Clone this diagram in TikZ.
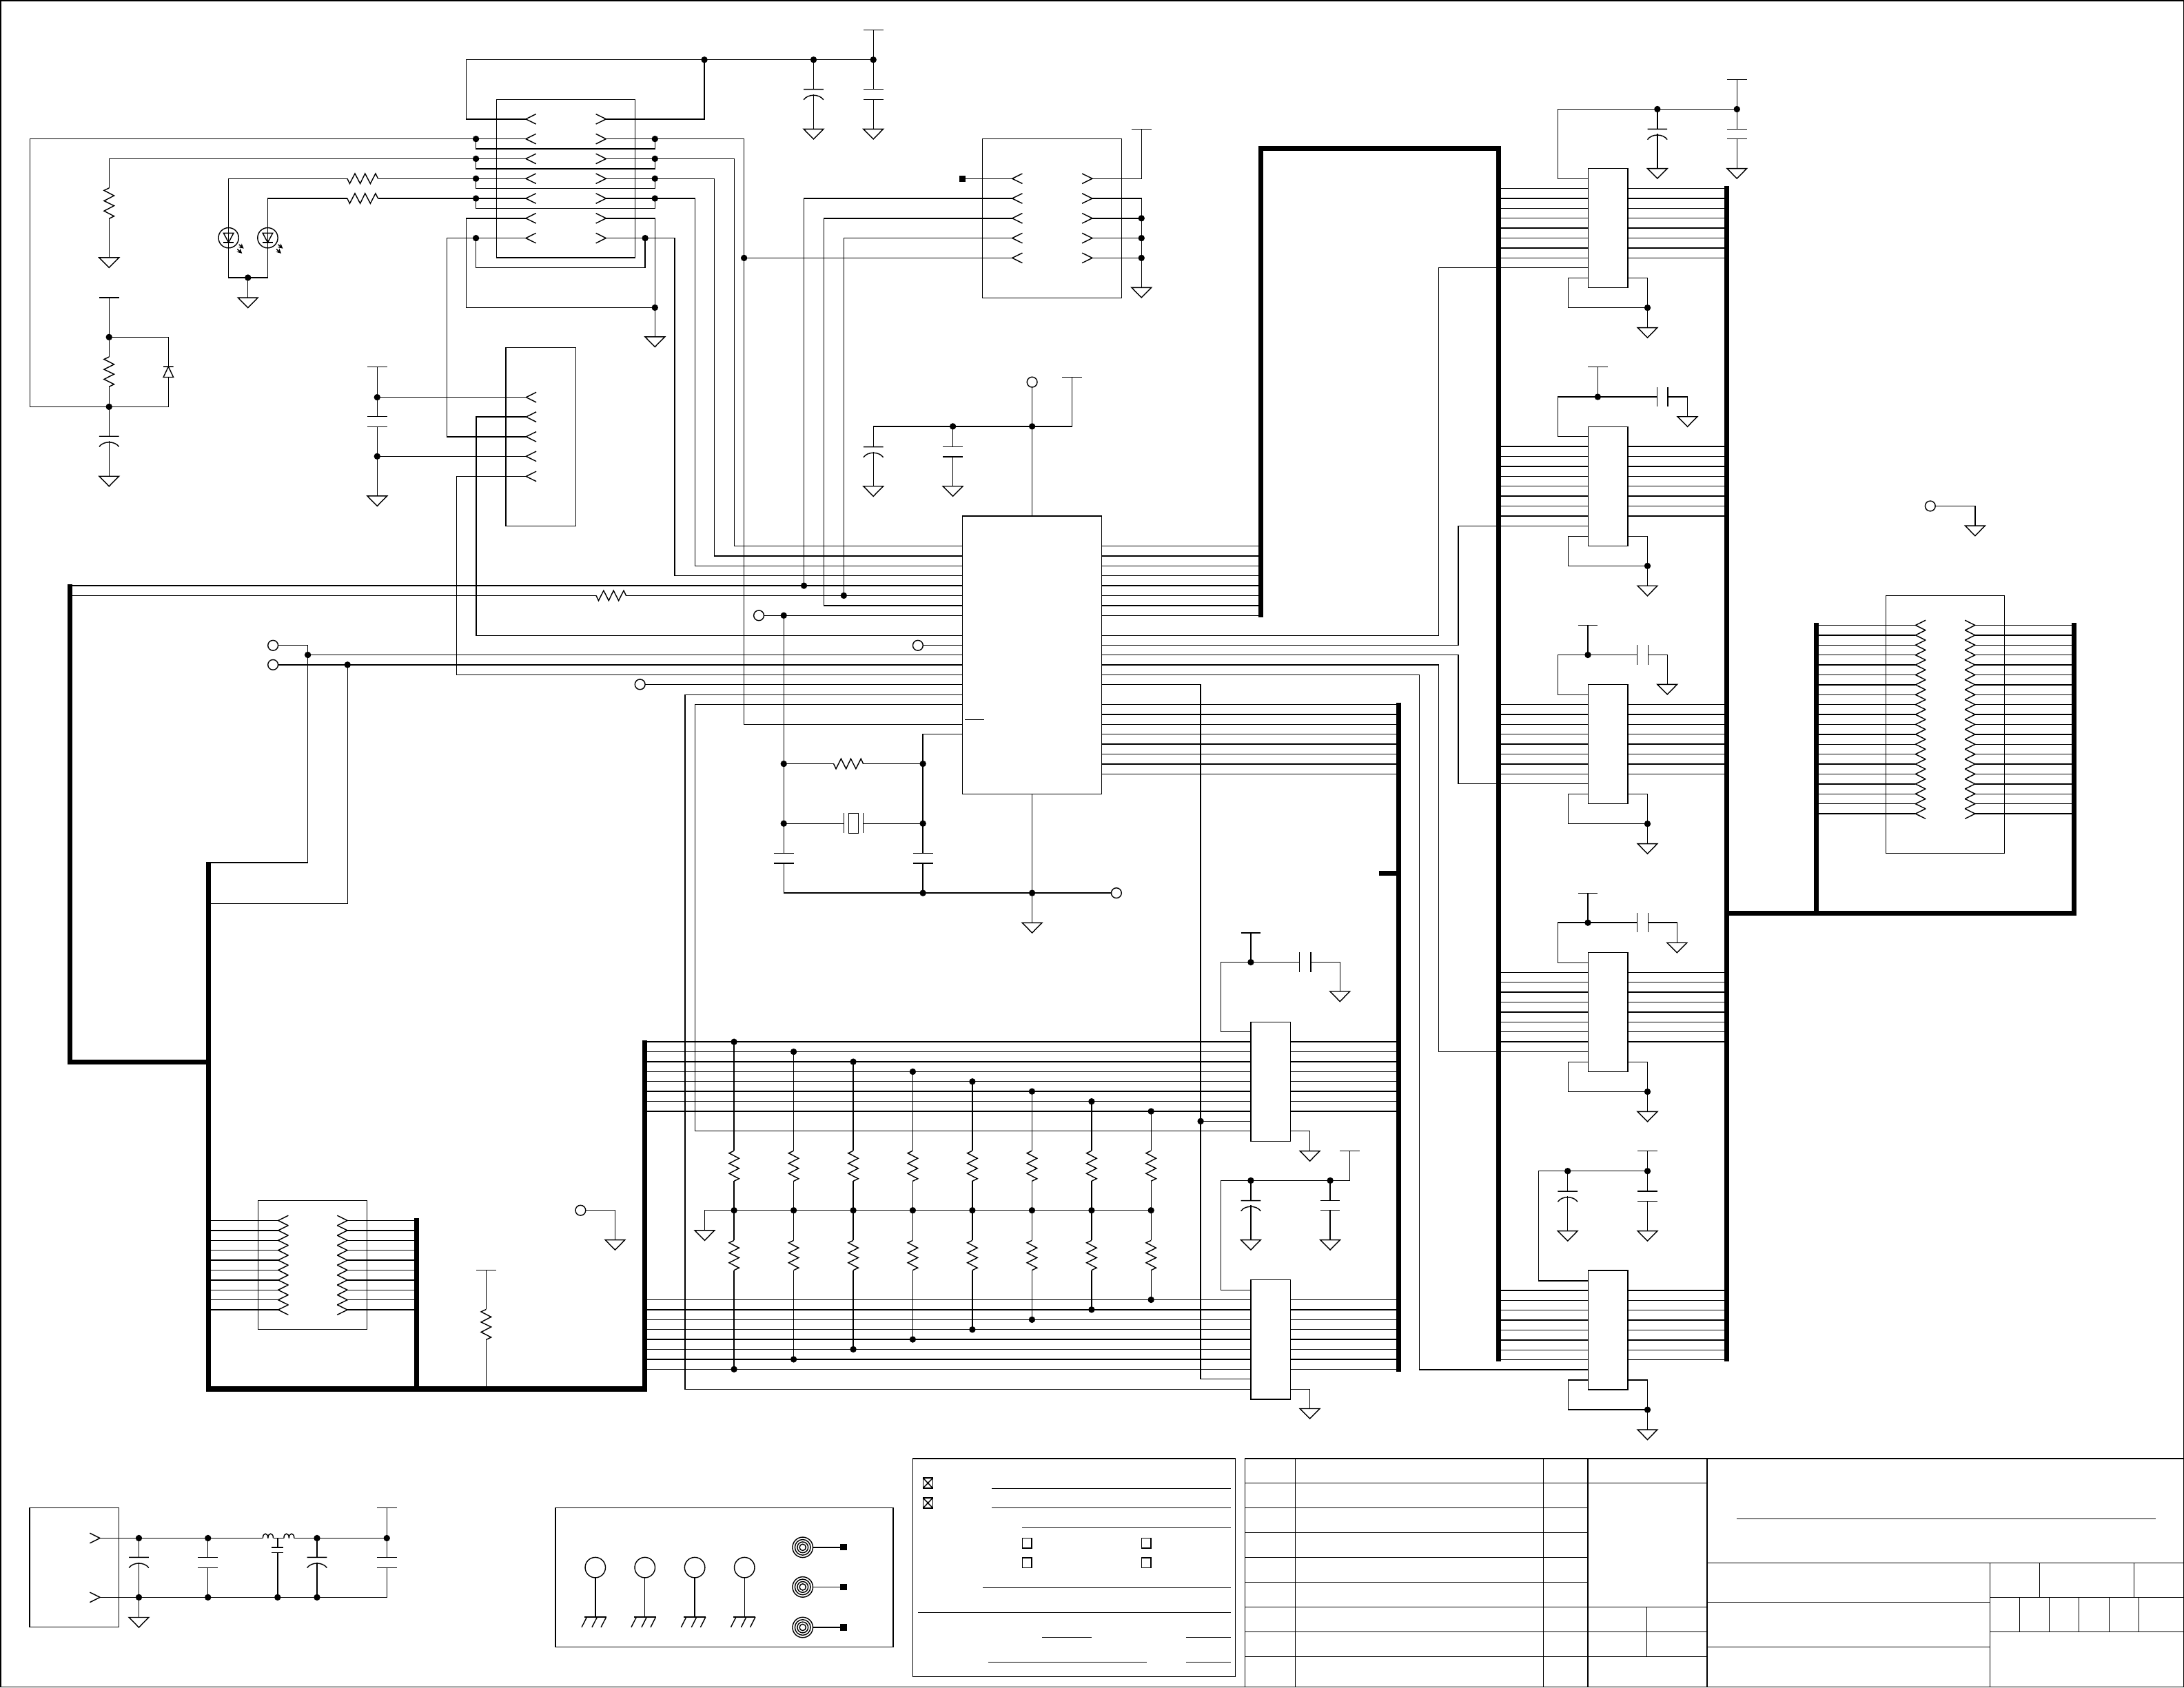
\documentclass[tikz,border=0pt]{standalone}
\usetikzlibrary{arrows.meta}
\newcounter{jn}
\newcounter{bn}
\tikzset{
  wire/.style={line width=0.3pt,line cap=butt,line join=miter},
  bus/.style={line width=1.5pt,line join=miter,line cap=butt},
  jdot/.style={circle,fill=black,draw=none,inner sep=0pt,minimum size=0.07cm},
  opin/.style={circle,draw=black,fill=white,line width=0.3pt,inner sep=0pt,minimum size=0.11cm},
  icbox/.style={rectangle,draw=black,line width=0.3pt,inner sep=0pt,outer sep=0pt},
  pad/.style={rectangle,fill=black,inner sep=0pt,minimum width=0.071cm,minimum height=0.069cm}
}
\newcommand{\xDot}[2]{\stepcounter{jn}\node[jdot] (j\thejn) at (#1,#2) {};}
\newcommand{\xOpen}[2]{\stepcounter{jn}\node[opin] (o\thejn) at (#1,#2) {};}
\newcommand{\xPad}[2]{\stepcounter{jn}\node[pad] (p\thejn) at (#1,#2) {};}
\newcommand{\xGnd}[2]{\draw[wire] (#1-7.1,#2)--(#1+7.1,#2)--(#1,#2+7.2)--cycle;}
\newcommand{\xVcc}[2]{\draw[wire] (#1-7.1,#2)--(#1+7.1,#2);}
\newcommand{\xCap}[3]{\draw[wire] (#1-7.1,#2)--(#1+7.1,#2) (#1-7.1,#3)--(#1+7.1,#3);}
\newcommand{\xPol}[2]{\draw[wire] (#1-7.1,#2)--(#1+7.1,#2) (#1-7.1,#2+7.5) .. controls (#1-4,#2+3.2) and (#1+4,#2+3.2) .. (#1+7.1,#2+7.5);}
\newcommand{\xCapH}[3]{\draw[wire] (#1,#3-7)--(#1,#3+7) (#2,#3-7)--(#2,#3+7);}
\newcommand{\xResV}[3]{\draw[wire] (#1,#2)--({#1-3.6},{#2+0.08*(#3-#2)})--({#1+3.6},{#2+0.25*(#3-#2)})--({#1-3.6},{#2+0.42*(#3-#2)})--({#1+3.6},{#2+0.58*(#3-#2)})--({#1-3.6},{#2+0.75*(#3-#2)})--({#1+3.6},{#2+0.92*(#3-#2)})--(#1,#3);}
\newcommand{\xResH}[3]{\draw[wire] (#1,#3)--({#1+0.08*(#2-#1)},{#3+3.6})--({#1+0.25*(#2-#1)},{#3-3.6})--({#1+0.42*(#2-#1)},{#3+3.6})--({#1+0.58*(#2-#1)},{#3-3.6})--({#1+0.75*(#2-#1)},{#3+3.6})--({#1+0.92*(#2-#1)},{#3-3.6})--(#2,#3);}
\newcommand{\xChL}[2]{\draw[wire] (#1+7.3,#2-3.6)--(#1,#2)--(#1+7.3,#2+3.6);}
\newcommand{\xChR}[2]{\draw[wire] (#1-7.3,#2-3.6)--(#1,#2)--(#1-7.3,#2+3.6);}
\newcommand{\xBox}[5]{\node[icbox,minimum width={(#4-#2)*0.015cm},minimum height={(#5-#3)*0.015cm}] (#1) at ({(#2+#4)/2},{(#3+#5)/2}) {};}
\newcommand{\xRows}[4]{\foreach \i in {0,...,#2}{\pgfmathsetmacro\yy{#1+7.125*\i}\draw[wire] (#3,\yy)--(#4,\yy);}}
\newcommand{\xW}[1]{\draw[wire] #1;}
% bus-to-bus buffer cell: #1 name, #2 top of box
\newcommand{\xCell}[2]{%
  \xBox{#1}{1140.2}{#2}{1168.6}{#2+85.6}
  \pgfmathsetmacro\rr{#2+14.3}
  \xRows{\rr}{7}{1075.8}{1140.2}
  \xRows{\rr}{7}{1168.6}{1239.7}
  \draw[wire] (1140.2,#2+78.7)--(1125.8,#2+78.7)--(1125.8,#2+100)--(1182.8,#2+100);
  \draw[wire] (1168.6,#2+78.7)--(1182.8,#2+78.7)--(1182.8,#2+114.3);
  \pgfmathsetmacro\gg{#2+100}\xDot{1182.8}{\gg}
  \pgfmathsetmacro\gg{#2+114.3}\xGnd{1182.8}{\gg}
}
\begin{document}
\begin{tikzpicture}[x=0.015cm,y=-0.015cm]
\useasboundingbox (0,0) rectangle (1568,1211.74);
\draw[wire] (0.4,0.4) rectangle (1567.7,1211.4);

% ---------- thick buses
\draw[bus] (50,419.5)--(50,762.5)--(149.5,762.5);
\draw[bus] (149.5,619)--(149.5,997.5)--(463,997.5)--(463,746.9);
\draw[bus] (299.3,874.8)--(299.3,997.5);
\draw[bus] (905,443.4)--(905,106.8)--(1075.8,106.8)--(1075.8,977.5);
\draw[bus] (1239.7,133.7)--(1239.7,977.5);
\draw[bus] (1004.3,504.5)--(1004.3,985);
\draw[bus] (990,627)--(1004.3,627);
\draw[bus] (1239.7,655.7)--(1489.2,655.7)--(1489.2,447.3);
\draw[bus] (1304,447.3)--(1304,655.7);

% ---------- connector J1
\xBox{jone}{356.6}{71.4}{456}{185}
\foreach \yy in {85.5,99.75,114,128.25,142.5,156.75,171}{\xChL{377.5}{\yy}\xChR{435.1}{\yy}}
\xW{(377.5,85.5)--(334.8,85.5)--(334.8,42.9)--(627,42.9)}
\xW{(435.1,85.5)--(505.7,85.5)--(505.7,42.9)}
\xDot{505.7}{42.9}\xDot{584.1}{42.9}\xDot{627}{42.9}
\xVcc{627}{21.5}\xW{(627,21.5)--(627,64.1)}\xCap{627}{64.1}{71.4}\xW{(627,71.4)--(627,92.7)}\xGnd{627}{92.7}
\xW{(584.1,42.9)--(584.1,64.1)}\xPol{584.1}{64.1}\xW{(584.1,67.8)--(584.1,92.7)}\xGnd{584.1}{92.7}
\foreach \yy in {99.75,114,128.25,142.5}{
  \xDot{341.7}{\yy}\xDot{470.2}{\yy}
  \draw[wire] (341.7,\yy)--(341.7,\yy+7.2)--(470.2,\yy+7.2)--(470.2,\yy);
}
% row 2
\xW{(377.5,99.75)--(21.5,99.75)--(21.5,292.1)--(120.9,292.1)--(120.9,270.9)}
\xW{(435.1,99.75)--(534.2,99.75)--(534.2,520.2)--(691,520.2)}
% row 3
\xW{(377.5,114)--(78.3,114)--(78.3,135)}\xResV{78.3}{135}{157}\xW{(78.3,157)--(78.3,185)}\xGnd{78.3}{185}
\xW{(435.1,114)--(527.2,114)--(527.2,392.1)--(691,392.1)}
% row 4
\xW{(377.5,128.25)--(271.4,128.25)}\xResH{249.3}{271.4}{128.25}\xW{(249.3,128.25)--(164.1,128.25)--(164.1,199.4)--(192.2,199.4)--(192.2,142.5)--(249.3,142.5)}
\xW{(435.1,128.25)--(512.9,128.25)--(512.9,399.2)--(691,399.2)}
% row 5
\xResH{249.3}{271.4}{142.5}\xW{(377.5,142.5)--(271.4,142.5)}
\xW{(435.1,142.5)--(499,142.5)--(499,406.4)--(691,406.4)}
% row 6
\xW{(377.5,156.75)--(334.8,156.75)--(334.8,220.9)--(470.2,220.9)}
\xW{(435.1,156.75)--(470.2,156.75)--(470.2,241.9)}
\xDot{470.2}{220.9}\xGnd{470.2}{241.9}
% row 7
\xW{(377.5,171)--(320.9,171)--(320.9,313.6)--(377.7,313.6)}
\xW{(435.1,171)--(484.4,171)--(484.4,413.5)--(691,413.5)}
\xDot{341.7}{171}\xDot{463.2}{171}
\xW{(341.7,171)--(341.7,192.1)--(463.2,192.1)--(463.2,171)}

% ---------- LEDs
\foreach \xx in {164.1,192.2}{
  \draw[wire] (\xx,170.8) circle (7.26*0.015cm);
  \draw[wire] (\xx-3.6,167.4)--(\xx+3.6,167.4)--(\xx,174.1)--cycle;
  \draw[wire] (\xx-3.6,174.1)--(\xx+3.6,174.1);
  \draw[wire,-{Stealth[length=1.5pt,width=1.5pt]}] (\xx+7.5,175.6)--(\xx+10.9,178.5);
  \draw[wire,-{Stealth[length=1.5pt,width=1.5pt]}] (\xx+6.3,178.9)--(\xx+9.7,182);
}
\xDot{178}{199.4}\xW{(178,199.4)--(178,213.8)}\xGnd{178}{213.8}

% ---------- left RC + diode
\xVcc{78.3}{213.8}\xW{(78.3,213.8)--(78.3,256.3)}\xDot{78.3}{242.1}
\xResV{78.3}{256.3}{277.7}\xW{(78.3,277.7)--(78.3,313.3)}\xDot{78.3}{292.1}
\xW{(78.3,242.1)--(120.9,242.1)--(120.9,263.3)}
\draw[wire] (117.3,263.3)--(124.5,263.3) (120.9,263.3)--(117.3,270.9)--(124.5,270.9)--cycle;
\xPol{78.3}{313.3}\xW{(78.3,316.8)--(78.3,342)}\xGnd{78.3}{342}

% ---------- connector J2
\xBox{jtwo}{363.2}{249.7}{413.4}{377.7}
\foreach \yy in {285.3,299.4,313.6,327.7,342.1}{\xChL{377.7}{\yy}}
\xVcc{270.8}{263.6}\xW{(270.8,263.6)--(270.8,299.2)}\xCap{270.8}{299.2}{306.5}\xW{(270.8,306.5)--(270.8,356.2)}\xGnd{270.8}{356.2}
\xDot{270.8}{285.3}\xDot{270.8}{327.7}
\xW{(270.8,285.3)--(377.7,285.3)}\xW{(270.8,327.7)--(377.7,327.7)}
\xW{(377.7,299.4)--(342,299.4)--(342,456.3)--(691,456.3)}
\xW{(377.7,342.1)--(327.9,342.1)--(327.9,484.7)--(691,484.7)}

% ---------- connector J3
\xBox{jthree}{705.3}{99.7}{805.3}{214.1}
\foreach \yy in {128.25,142.5,156.75,171,185.25}{\xChL{726.7}{\yy}\xChR{784.2}{\yy}}
\xPad{691}{128.25}\xW{(691,128.25)--(726.7,128.25)}
\xW{(726.7,142.5)--(577.2,142.5)--(577.2,420.6)}\xDot{577.2}{420.6}
\xW{(726.7,156.75)--(591.4,156.75)--(591.4,434.9)}
\xW{(726.7,171)--(605.8,171)--(605.8,427.7)}\xDot{605.8}{427.7}
\xW{(726.7,185.25)--(534.2,185.25)}\xDot{534.2}{185.25}
\xW{(784.2,128.25)--(819.5,128.25)--(819.5,92.7)}\xVcc{819.5}{92.7}
\xW{(784.2,142.5)--(819.5,142.5)--(819.5,206.5)}
\foreach \yy in {156.75,171,185.25}{\xW{(784.2,\yy)--(819.5,\yy)}\xDot{819.5}{\yy}}
\xGnd{819.5}{206.5}

% ---------- main IC
\xBox{mcu}{691}{370.5}{791}{570.2}
\xW{(692.8,516.9)--(706.7,516.9)}
\xW{(mcu.north)--(741,278.1)}\xOpen{741}{274.4}
\xDot{741}{306.2}\xDot{684.1}{306.2}
\xW{(769.6,270.9)--(769.6,306.2)--(627,306.2)--(627,320.9)}\xVcc{769.6}{270.9}
\xPol{627}{320.9}\xW{(627,324.4)--(627,349.2)}\xGnd{627}{349.2}
\xW{(684.1,306.2)--(684.1,320.9)}\xCap{684.1}{320.9}{328}\xW{(684.1,328)--(684.1,349.2)}\xGnd{684.1}{349.2}
\xRows{392.1}{7}{791}{905}
\xRows{505.9}{7}{791}{1004.3}
% left side
\xW{(50,420.6)--(691,420.6)}
\xW{(50,427.7)--(428,427.7)}\xResH{428}{449.5}{427.7}\xW{(449.5,427.7)--(691,427.7)}
\xW{(591.4,434.9)--(691,434.9)}
\xOpen{544.8}{442}\xW{(548.5,442)--(691,442)}\xDot{562.7}{442}
\xOpen{659}{463.5}\xW{(662.7,463.5)--(691,463.5)}
\xOpen{196}{463.5}\xW{(199.7,463.5)--(221,463.5)--(221,619.5)--(149.5,619.5)}
\xDot{221}{470.3}\xW{(221,470.3)--(691,470.3)}
\xOpen{196}{477.4}\xW{(199.7,477.4)--(691,477.4)}
\xDot{249.5}{477.4}\xW{(249.5,477.4)--(249.5,649)--(149.5,649)}
\xOpen{459.5}{491.5}\xW{(463.2,491.5)--(691,491.5)}
\xW{(691,499)--(491.8,499)--(491.8,997.8)--(898,997.8)}
\xW{(691,505.9)--(499,505.9)--(499,812.2)--(898,812.2)}
% crystal
\xW{(691,527.3)--(662.6,527.3)--(662.6,612.8)}
\xW{(562.7,442)--(562.7,612.8)}
\xDot{562.7}{548.5}\xDot{662.6}{548.5}\xDot{562.7}{591.4}\xDot{662.6}{591.4}
\xW{(562.7,548.5)--(598.5,548.5)}\xResH{598.5}{619.8}{548.5}\xW{(619.8,548.5)--(662.6,548.5)}
\xW{(562.7,591.4)--(605.8,591.4)}\xW{(619.8,591.4)--(662.6,591.4)}
\draw[wire] (605.8,584)--(605.8,598.4) (619.8,584)--(619.8,598.4) (609.3,584) rectangle (616.4,598.4);
\xCap{562.7}{612.8}{619.9}\xCap{662.6}{612.8}{619.9}
\xW{(562.7,619.9)--(562.7,641.3)--(797.9,641.3)}
\xW{(662.6,619.9)--(662.6,641.3)}
\xDot{662.6}{641.3}\xDot{741}{641.3}\xOpen{801.5}{641.3}
\xW{(mcu.south)--(741,662.7)}\xGnd{741}{662.7}
% right side routing
\xW{(791,456.3)--(1033,456.3)--(1033,192.3)--(1140.2,192.3)}
\xW{(791,463.5)--(1047,463.5)--(1047,377.7)--(1140.2,377.7)}
\xW{(791,470.3)--(1047,470.3)--(1047,562.9)--(1140.2,562.9)}
\xW{(791,477.4)--(1033,477.4)--(1033,755.3)--(1140.2,755.3)}
\xW{(791,484.7)--(1019,484.7)--(1019,983.7)--(1140.2,983.7)}
\xW{(791,491.5)--(862,491.5)--(862,990.4)--(898,990.4)}
\xDot{862}{805.2}\xW{(862,805.2)--(898,805.2)}

% ---------- latches
\xBox{ufive}{898}{734}{926.6}{819.6}
\xBox{usix}{898}{919.2}{926.6}{1004.8}
\xRows{748.2}{7}{463}{898}
\xRows{748.2}{7}{926.6}{1004.3}
\xRows{933.4}{7}{463}{898}
\xRows{933.4}{7}{926.6}{1004.3}
\xW{(898,741)--(876.5,741)--(876.5,691)--(933,691)}
\xW{(941,691)--(962,691)--(962,712)}\xCapH{933}{941}{691}\xGnd{962}{712}
\xVcc{898}{670}\xW{(898,670)--(898,691)}\xDot{898}{691}
\xW{(926.6,812.2)--(940.4,812.2)--(940.4,826.6)}\xGnd{940.4}{826.6}
\xW{(926.6,997.8)--(940.4,997.8)--(940.4,1011.6)}\xGnd{940.4}{1011.6}
\xVcc{969.1}{826.6}\xW{(969.1,826.6)--(969.1,847.8)--(876.5,847.8)--(876.5,926.6)--(898,926.6)}
\xDot{898}{847.8}\xDot{955}{847.8}
\xW{(898,847.8)--(898,862.2)}\xPol{898}{862.2}\xW{(898,865.6)--(898,890.4)}\xGnd{898}{890.4}
\xW{(955,847.8)--(955,862.2)}\xCap{955}{862.2}{869.2}\xW{(955,869.2)--(955,890.4)}\xGnd{955}{890.4}

% ---------- pull resistors
\foreach \xx/\ya/\yb in {527/748.2/983.3,569.8/755.3/976.2,612.6/762.5/969,655.3/769.6/961.9,698.1/776.7/954.8,740.9/783.8/947.7,783.7/791/940.5,826.4/798.1/933.4}{
  \xDot{\xx}{\ya}\xDot{\xx}{\yb}\xDot{\xx}{869.2}
  \xW{(\xx,\ya)--(\xx,826.4)}\xResV{\xx}{826.4}{848.2}\xW{(\xx,848.2)--(\xx,890.8)}
  \xResV{\xx}{890.8}{912.2}\xW{(\xx,912.2)--(\xx,\yb)}
}
\xW{(826.4,869.2)--(505.9,869.2)--(505.9,883.6)}\xGnd{505.9}{883.6}

% ---------- resistor net lower left
\xBox{packa}{185.3}{862.1}{263.5}{954.7}
\foreach \i in {0,...,9}{\pgfmathsetmacro\yy{876.5+7.125*\i}\xChL{199.7}{\yy}\xChR{249.4}{\yy}
  \xW{(149.5,\yy)--(199.7,\yy)}\xW{(249.4,\yy)--(299.3,\yy)}}
\xVcc{349}{912.1}\xW{(349,912.1)--(349,940.3)}\xResV{349}{940.3}{962.1}\xW{(349,962.1)--(349,997.5)}
\xOpen{416.8}{869.2}\xW{(420.5,869.2)--(441.6,869.2)--(441.6,890.4)}\xGnd{441.6}{890.4}

% ---------- buffers right
\xCell{uA}{121}
\xCell{uB}{306.4}
\xCell{uC}{491.6}
\xCell{uD}{684}
\xCell{uE}{912.4}
% uA top
\xW{(1140.2,128.4)--(1118.4,128.4)--(1118.4,78.4)--(1247,78.4)}
\xDot{1189.9}{78.4}\xDot{1247}{78.4}
\xVcc{1247}{57.1}\xW{(1247,57.1)--(1247,92.7)}\xCap{1247}{92.7}{99.7}\xW{(1247,99.7)--(1247,121)}\xGnd{1247}{121}
\xW{(1189.9,78.4)--(1189.9,92.7)}\xPol{1189.9}{92.7}\xW{(1189.9,96.2)--(1189.9,121)}\xGnd{1189.9}{121}
% uB top
\xW{(1140.2,313.4)--(1118.5,313.4)--(1118.5,285)--(1189.7,285)}
\xCapH{1189.7}{1197.3}{285}\xW{(1197.3,285)--(1211.5,285)--(1211.5,299.2)}\xGnd{1211.5}{299.2}
\xVcc{1147.1}{263.4}\xW{(1147.1,263.4)--(1147.1,285)}\xDot{1147.1}{285}
% uC top
\xW{(1140.2,499)--(1118.5,499)--(1118.5,470.3)--(1175.5,470.3)}
\xCapH{1175.5}{1183.2}{470.3}\xW{(1183.2,470.3)--(1197,470.3)--(1197,491.5)}\xGnd{1197}{491.5}
\xVcc{1140}{449}\xW{(1140,449)--(1140,470.3)}\xDot{1140}{470.3}
% uD top
\xW{(1140.2,691.4)--(1118.5,691.4)--(1118.5,662.6)--(1175.5,662.6)}
\xCapH{1175.5}{1183.2}{662.6}\xW{(1183.2,662.6)--(1204,662.6)--(1204,677)}\xGnd{1204}{677}
\xVcc{1140}{641.5}\xW{(1140,641.5)--(1140,662.6)}\xDot{1140}{662.6}
% uE top
\xW{(1140.2,919.8)--(1104.6,919.8)--(1104.6,841)--(1182.8,841)}
\xDot{1125.5}{841}\xDot{1182.8}{841}
\xVcc{1182.8}{826.5}\xW{(1182.8,826.5)--(1182.8,855.5)}\xCap{1182.8}{855.5}{862.7}\xW{(1182.8,862.7)--(1182.8,884)}\xGnd{1182.8}{884}
\xW{(1125.5,841)--(1125.5,855.5)}\xPol{1125.5}{855.5}\xW{(1125.5,859)--(1125.5,884)}\xGnd{1125.5}{884}

% ---------- right connector
\xBox{packb}{1354}{427.8}{1439.2}{612.9}
\foreach \i in {0,...,19}{\pgfmathsetmacro\yy{449+7.125*\i}\xChL{1375.2}{\yy}\xChR{1418}{\yy}
  \xW{(1304,\yy)--(1375.2,\yy)}\xW{(1418,\yy)--(1489.2,\yy)}}
\xOpen{1385.8}{363.4}\xW{(1389.5,363.4)--(1418,363.4)--(1418,377.6)}\xGnd{1418}{377.6}

% ---------- power input
\xBox{pwr}{21.3}{1082.8}{85.3}{1168.4}
\xChR{71.8}{1104.6}\xChR{71.8}{1147.1}
\xW{(71.8,1104.6)--(188.7,1104.6)}
\xW{(196.2,1104.6)--(203.8,1104.6)}
\xW{(211.2,1104.6)--(277.7,1104.6)}
\foreach \aa/\bb in {188.7/192.4,192.4/196.2,203.8/207.5,207.5/211.2}{\draw[wire] (\aa,1104.6) .. controls (\aa,1100.4) and (\bb,1100.4) .. (\bb,1104.6);}
\xW{(71.8,1147.1)--(277.7,1147.1)--(277.7,1125.9)}
\xDot{99.7}{1104.6}\xDot{149.3}{1104.6}\xDot{227.6}{1104.6}\xDot{277.7}{1104.6}
\xDot{99.7}{1147.1}\xDot{149.3}{1147.1}\xDot{199.3}{1147.1}\xDot{227.6}{1147.1}
\xW{(99.7,1104.6)--(99.7,1118.4)}\xPol{99.7}{1118.4}\xW{(99.7,1122)--(99.7,1161.5)}\xGnd{99.7}{1161.5}
\xW{(149.3,1104.6)--(149.3,1118.4)}\xCap{149.3}{1118.4}{1125.9}\xW{(149.3,1125.9)--(149.3,1147.1)}
\xW{(199.3,1104.6)--(199.3,1111.3)}\draw[wire] (195,1111.3)--(203.6,1111.3) (195,1115.1)--(203.6,1115.1);\xW{(199.3,1115.1)--(199.3,1147.1)}
\xW{(227.6,1104.6)--(227.6,1118.4)}\xPol{227.6}{1118.4}\xW{(227.6,1122)--(227.6,1147.1)}
\xVcc{277.7}{1082.8}\xW{(277.7,1082.8)--(277.7,1118.4)}\xCap{277.7}{1118.4}{1125.9}

% ---------- mounting block
\xBox{mech}{398.9}{1082.8}{641.2}{1182.8}
\foreach \xx in {427.4,463,498.8,534.5}{
  \draw[wire] (\xx,1125.7) circle (7.3*0.015cm);
  \xW{(\xx,1133)--(\xx,1161.3)}
  \xW{(\xx-7.8,1161.3)--(\xx+7.8,1161.3)}
  \foreach \dd in {-6.1,1.3,7.8}{\xW{(\xx+\dd,1161.3)--(\xx+\dd-3.7,1168.6)}}
}
\foreach \yy in {1111.2,1139.7,1168.7}{
  \foreach \rr in {7.3,5.6,3.9,2.3}{\draw[wire] (576.3,\yy) circle (\rr*0.015cm);}
  \xW{(583.6,\yy)--(603,\yy)}\xPad{605.5}{\yy}
}

% ---------- notes block
\xBox{notes}{655.3}{1047.4}{886.9}{1204}
\foreach \yy in {1061.4,1075.7}{
  \draw[wire] (662.7,\yy) rectangle (669.7,\yy+7.3);
  \draw[wire] (662.7,\yy)--(669.7,\yy+7.3) (662.7,\yy+7.3)--(669.7,\yy);
}
\foreach \xx/\yy in {734/1104.6,819.6/1104.6,734/1118.6,819.6/1118.6}{\draw[wire] (\xx,\yy) rectangle (\xx+6.6,\yy+7.2);}
\xW{(712.2,1069)--(883.9,1069)}
\xW{(712.2,1082.8)--(883.9,1082.8)}
\xW{(734,1097.2)--(883.9,1097.2)}
\xW{(705.7,1140.2)--(883.9,1140.2)}
\xW{(659.1,1157.9)--(883.9,1157.9)}
\xW{(748.2,1175.8)--(783.6,1175.8)}
\xW{(851.5,1175.8)--(883.9,1175.8)}
\xW{(709.3,1193.6)--(823.1,1193.6)}
\xW{(851.5,1193.6)--(883.9,1193.6)}

% ---------- title block
\xW{(893.9,1211.4)--(893.9,1047.4)--(1567.7,1047.4)}
\foreach \xx in {929.9,1108.1,1140,1225.5}{\xW{(\xx,1047.4)--(\xx,1211.4)}}
\foreach \yy in {1065,1154,1171.9,1189.7}{\xW{(893.9,\yy)--(1225.5,\yy)}}
\foreach \yy in {1082.8,1100.6,1118.4,1136.2}{\xW{(893.9,\yy)--(1140,\yy)}}
\xW{(1182.4,1154)--(1182.4,1189.7)}
\xW{(1246.7,1090.7)--(1547.7,1090.7)}
\xW{(1225.5,1122.4)--(1567.7,1122.4)}
\xW{(1225.5,1150.6)--(1428.7,1150.6)}
\xW{(1225.5,1182.7)--(1428.7,1182.7)}
\xW{(1428.7,1122.4)--(1428.7,1211.4)}
\xW{(1428.7,1147.1)--(1567.7,1147.1)}
\xW{(1428.7,1171.8)--(1567.7,1171.8)}
\foreach \xx in {1464.3,1532.1}{\xW{(\xx,1122.4)--(\xx,1147.1)}}
\foreach \xx in {1450,1471.3,1492.5,1514.3,1535.6}{\xW{(\xx,1147.1)--(\xx,1171.8)}}
\end{tikzpicture}
\end{document}
